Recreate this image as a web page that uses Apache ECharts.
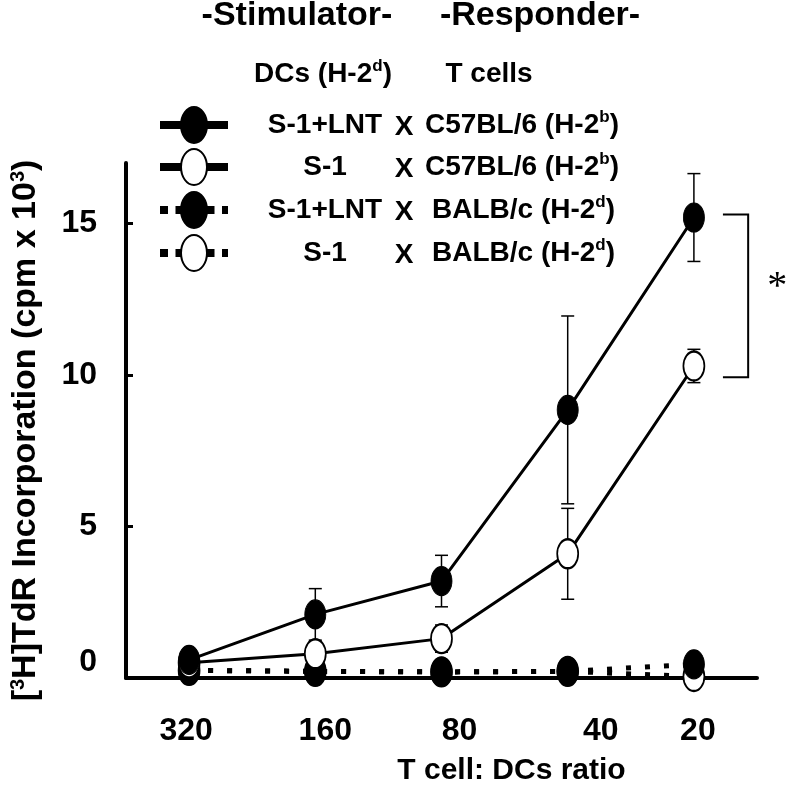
<!DOCTYPE html>
<html><head><meta charset="utf-8">
<script src="https://cdn.jsdelivr.net/npm/echarts@6/dist/echarts.min.js"></script>
<style>html,body{margin:0;padding:0;background:#fff}#c{width:787px;height:791px}</style>
</head><body><div id="c"></div>
<script>
// ---- data ----
const categories = ['320', '160', '80', '40', '20'];
const lntB6 = [0.6, 2.1, 3.2, 8.85, 15.2];        // S-1+LNT x C57BL/6
const lntB6Err = [0, 0.85, 0.85, 3.1, 1.45];
const s1B6 = [0.5, 0.8, 1.3, 4.1, 10.3];          // S-1 x C57BL/6
const s1B6Err = [0, 0.4, 0.45, 1.5, 0.55];
const lntBalb = [0.25, 0.22, 0.2, 0.22, 0.45];    // S-1+LNT x BALB/c
const s1Balb = [0.25, 0.22, 0.2, 0.22, 0.05];     // S-1 x BALB/c
const yTicks = [0, 5, 10, 15];
const bracketValues = [15.3, 9.93];
const legendStim = ['S-1+LNT', 'S-1', 'S-1+LNT', 'S-1'];
const legendResp = ['C57BL/6 (H-2{sup|b})', 'C57BL/6 (H-2{sup|b})', 'BALB/c (H-2{sup|d})', 'BALB/c (H-2{sup|d})'];

// ---- styles ----
const FONT = "'Liberation Sans', Arial, sans-serif";
const labelShift = [-3, 10, 18, 33, 4];
const richX = {};
labelShift.forEach((d, i) => {
  richX['o' + i] = {fontSize: 32, fontWeight: 'bold', fontFamily: FONT, color: '#000',
    padding: d >= 0 ? [0, 0, 0, 2 * d] : [0, -2 * d, 0, 0]};
});

const chart = echarts.init(document.getElementById('c'), null, {renderer: 'canvas'});

function errSeries(vals, errs) {
  return {
    type: 'custom',
    z: 1,
    data: vals.map((v, i) => [i, v, errs[i]]),
    encode: {x: 0, y: 1},
    renderItem: function (params, api) {
      const i = api.value(0), v = api.value(1), e = api.value(2);
      if (!e) return {type: 'group', children: []};
      const top = api.coord([i, v + e]);
      const bot = api.coord([i, v - e]);
      const hw = 6.5;
      const st = {stroke: '#000', lineWidth: 1.5};
      return {type: 'group', children: [
        {type: 'line', shape: {x1: top[0], y1: top[1], x2: bot[0], y2: bot[1]}, style: st},
        {type: 'line', shape: {x1: top[0] - hw, y1: top[1], x2: top[0] + hw, y2: top[1]}, style: st},
        {type: 'line', shape: {x1: bot[0] - hw, y1: bot[1], x2: bot[0] + hw, y2: bot[1]}, style: st}
      ]};
    }
  };
}

const dotted = [5, 14];
const symSize = [21, 29];

// ---- legend graphics ----
const rowsY = [125, 167, 210, 253];
const legendGraphics = [];
const legendStyles = [
  {fill: '#000', dash: null}, {fill: '#fff', dash: null},
  {fill: '#000', dash: [8, 7.5]}, {fill: '#fff', dash: [8, 7.5]}
];
rowsY.forEach((y, r) => {
  const ls = legendStyles[r];
  legendGraphics.push({type: 'line', shape: {x1: 160, y1: y, x2: 228, y2: y},
    style: {stroke: '#000', lineWidth: 8, lineDash: ls.dash}});
  legendGraphics.push({type: 'ellipse', shape: {cx: 194, cy: y, rx: 13, ry: 18},
    style: {fill: ls.fill, stroke: '#000', lineWidth: 2}});
  legendGraphics.push({type: 'text', x: 325, y: y, style: {text: legendStim[r], fontSize: 28, fontWeight: 'bold',
    fontFamily: FONT, fill: '#000', textAlign: 'center', textVerticalAlign: 'middle'}});
  legendGraphics.push({type: 'text', x: 404, y: y + 2, style: {text: 'X', fontSize: 28, fontWeight: 'bold',
    fontFamily: FONT, fill: '#000', textAlign: 'center', textVerticalAlign: 'middle'}});
  legendGraphics.push({type: 'text', x: r < 2 ? 425 : 432, y: y, style: {text: legendResp[r], fontSize: 28, fontWeight: 'bold',
    fontFamily: FONT, fill: '#000', textAlign: 'left', textVerticalAlign: 'middle', lineHeight: 32,
    rich: {sup: {fontSize: 17, fontWeight: 'bold', fontFamily: FONT, verticalAlign: 'top', lineHeight: 32}}}});
});
legendGraphics.push({type: 'text', x: 297, y: 16, style: {text: '-Stimulator-', fontSize: 34, fontWeight: 'bold',
  fontFamily: FONT, fill: '#000', textAlign: 'center', textVerticalAlign: 'middle'}});
legendGraphics.push({type: 'text', x: 540, y: 16, style: {text: '-Responder-', fontSize: 34, fontWeight: 'bold',
  fontFamily: FONT, fill: '#000', textAlign: 'center', textVerticalAlign: 'middle'}});
legendGraphics.push({type: 'text', x: 323, y: 74, style: {text: 'DCs (H-2{sup|d})', fontSize: 28, fontWeight: 'bold',
  fontFamily: FONT, fill: '#000', textAlign: 'center', textVerticalAlign: 'middle', lineHeight: 32,
  rich: {sup: {fontSize: 17, fontWeight: 'bold', fontFamily: FONT, verticalAlign: 'top', lineHeight: 32}}}});
legendGraphics.push({type: 'text', x: 489, y: 74, style: {text: 'T cells', fontSize: 28, fontWeight: 'bold',
  fontFamily: FONT, fill: '#000', textAlign: 'center', textVerticalAlign: 'middle'}});

const option = {
  animation: false,
  backgroundColor: '#fff',
  grid: {left: 117, top: 163, width: 640, height: 524, containLabel: false},
  xAxis: {
    type: 'category', data: categories, boundaryGap: true,
    axisLine: {lineStyle: {color: '#000', width: 4}},
    axisTick: {show: false},
    axisLabel: {interval: 0, hideOverlap: false, margin: 37, fontSize: 32, fontWeight: 'bold', fontFamily: FONT, color: '#000',
      formatter: (v, i) => '{o' + i + '|' + v + '}', rich: richX},
    splitLine: {show: false},
    name: 'T cell: DCs ratio', nameLocation: 'middle', nameGap: 78,
    nameTextStyle: {fontSize: 30, fontWeight: 'bold', fontFamily: FONT, color: '#000', padding: [0, 0, 0, 140]}
  },
  yAxis: {
    type: 'value', min: 0, max: 17, interval: 5,
    axisLine: {show: true, lineStyle: {color: '#000', width: 4}},
    axisTick: {show: true, inside: true, length: 7, lineStyle: {color: '#000', width: 3}, customValues: yTicks},
    axisLabel: {margin: 29, fontSize: 32, fontWeight: 'bold', fontFamily: FONT, color: '#000', customValues: yTicks,
      formatter: v => (v === 0 ? '{z|0}' : (yTicks.indexOf(v) >= 0 ? String(v) : '')),
      rich: {z: {fontSize: 32, fontWeight: 'bold', fontFamily: FONT, color: '#000', padding: [0, 0, 32, 0]}}},
    splitLine: {show: false},
    name: '[{sup|3}H]TdR Incorporation (cpm x 10{sup|3})', nameLocation: 'middle', nameGap: 82, nameRotate: 90,
    nameTextStyle: {fontSize: 34, fontWeight: 'bold', fontFamily: FONT, color: '#000', lineHeight: 36,
      padding: [0, 20, 0, 0],
      rich: {sup: {fontSize: 20, fontWeight: 'bold', fontFamily: FONT, color: '#000', verticalAlign: 'top', lineHeight: 36}}}
  },
  graphic: legendGraphics,
  series: [
    {type: 'line', name: 'S-1 x BALB/c', data: s1Balb, symbol: 'circle', symbolSize: symSize, z: 2,
      lineStyle: {color: '#000', width: 5, type: dotted}, itemStyle: {color: '#fff', borderColor: '#000', borderWidth: 2}},
    {type: 'line', name: 'S-1+LNT x BALB/c', data: lntBalb, symbol: 'circle', symbolSize: symSize, z: 2,
      lineStyle: {color: '#000', width: 5, type: dotted}, itemStyle: {color: '#000', borderColor: '#000', borderWidth: 1}},
    errSeries(s1B6, s1B6Err),
    errSeries(lntB6, lntB6Err),
    {type: 'line', name: 'S-1 x C57BL/6', data: s1B6, symbol: 'circle', symbolSize: symSize, z: 3,
      lineStyle: {color: '#000', width: 3}, itemStyle: {color: '#fff', borderColor: '#000', borderWidth: 2}},
    {type: 'line', name: 'S-1+LNT x C57BL/6', data: lntB6, symbol: 'circle', symbolSize: symSize, z: 3,
      lineStyle: {color: '#000', width: 3}, itemStyle: {color: '#000', borderColor: '#000', borderWidth: 1}},
    {
      type: 'custom', z: 4, clip: false,
      data: [[categories.length - 1, bracketValues[0], bracketValues[1]]],
      encode: {x: 0, y: 1},
      renderItem: function (params, api) {
        const i = api.value(0);
        const p1 = api.coord([i, api.value(1)]);
        const p2 = api.coord([i, api.value(2)]);
        const band = api.size([1, 0])[0];
        const x1 = p1[0] + 0.23 * band, x2 = p1[0] + 0.43 * band;
        return {type: 'group', children: [
          {type: 'polyline', shape: {points: [[x1, p1[1]], [x2, p1[1]], [x2, p2[1]], [x1, p2[1]]]},
            style: {stroke: '#000', lineWidth: 2, fill: null}},
          {type: 'text', x: p1[0] + 0.66 * band, y: (p1[1] + p2[1]) / 2 - 8,
            style: {text: '*', fontSize: 40, fontFamily: "'Liberation Serif', 'Times New Roman', serif",
              fill: '#000', textAlign: 'center', textVerticalAlign: 'middle'}}
        ]};
      }
    }
  ]
};
chart.setOption(option);
</script></body></html>
